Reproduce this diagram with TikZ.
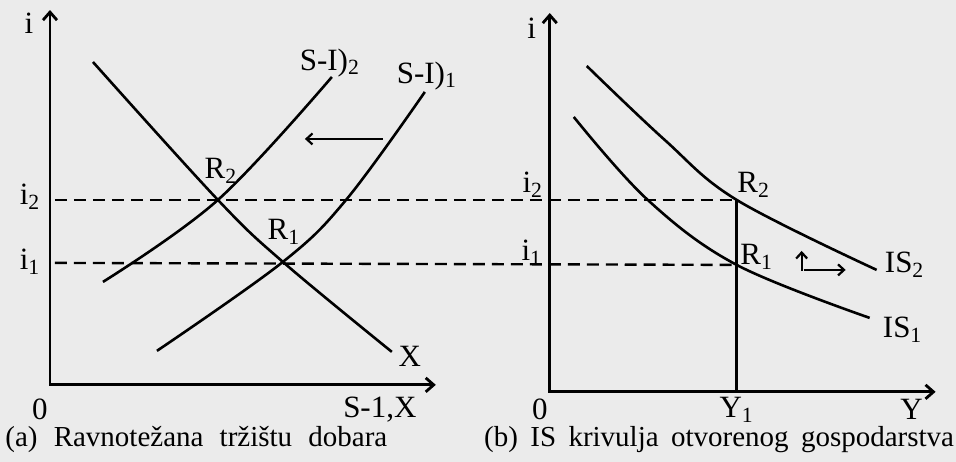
\documentclass[tikz,border=0pt]{standalone}
\usepackage{fontspec}
\setmainfont{Liberation Serif}
\usetikzlibrary{arrows.meta}
\begin{document}
\begin{tikzpicture}[x=0.5pt,y=-0.5pt,
    axis/.style={{Straight Barb[length=4pt,width=7pt]}-{Straight Barb[length=4pt,width=7pt]}, line width=1.4pt},
    curve/.style={line width=1.3pt},
    guide/.style={line width=1.2pt, dash pattern=on 6pt off 3.5pt},
    shift arrow/.style={-{Straight Barb[length=3pt,width=5.5pt]}, line width=1.1pt},
    every node/.style={font=\fontsize{15.5}{18}\selectfont, inner sep=1pt}
]
    \fill[black!8] (0,0) rectangle (956,462);

    % (a) goods market
    \coordinate (a top) at (50,10);
    \coordinate (a O) at (50,385);
    \coordinate (a right) at (436,385);
    \draw[axis] (a top) -- (a O) -- (a right);
    \coordinate (R2a) at (218,200);
    \coordinate (R1a) at (283,262);
    \draw[curve] plot[smooth, tension=0.6] coordinates {(93,62) (R2a) (R1a) (392,352)};
    \draw[curve] plot[smooth, tension=0.6] coordinates {(103,282) (R2a) (332,77)};
    \draw[curve] plot[smooth, tension=0.6] coordinates {(157,351) (R1a) (347,199) (425,92)};
    \node (ia) at (29,23) {i};
    \node (i2a) at (30,197) {i\textsubscript{2}};
    \node (i1a) at (30,262) {i\textsubscript{1}};
    \node (0a) at (40,410) {0};
    \node (xa) at (380,410) {S-1,X};
    \node (SI2) at (330,63) {S-I)\textsubscript{2}};
    \node (SI1) at (427,76) {S-I)\textsubscript{1}};
    \node (R2 lbl) at (221,171) {R\textsubscript{2}};
    \node (R1 lbl) at (284,232) {R\textsubscript{1}};
    \node (X lbl) at (410,356) {X};
    \coordinate (sh from) at (383,139);
    \coordinate (sh to) at (305,139);
    \draw[shift arrow] (sh from) -- (sh to);

    % (b) IS curve
    \coordinate (b top) at (550,13);
    \coordinate (b O) at (550,392);
    \coordinate (b right) at (936,392);
    \draw[axis] (b top) -- (b O) -- (b right);
    \coordinate (R2b) at (737,200);
    \coordinate (R1b) at (737,265);
    \coordinate (Y1) at (737,392);
    \draw[curve] plot[smooth, tension=0.6] coordinates {(587,66) (665,140) (R2b) (877,270)};
    \draw[curve] plot[smooth, tension=0.6] coordinates {(574,117) (648,200) (R1b) (870,318)};
    \draw[curve] (R2b) -- (Y1);
    \node (ib) at (532,28) {i};
    \node (i2b) at (533,185) {i\textsubscript{2}};
    \node (i1b) at (532,253) {i\textsubscript{1}};
    \node (0b) at (540,410) {0};
    \node (Y1 lbl) at (737,410) {Y\textsubscript{1}};
    \node (Y lbl) at (912,410) {Y};
    \node (R2b lbl) at (754,185) {R\textsubscript{2}};
    \node (R1b lbl) at (757,257) {R\textsubscript{1}};
    \node (IS2) at (905,265) {IS\textsubscript{2}};
    \node (IS1) at (903,330) {IS\textsubscript{1}};
    \coordinate (up from) at (802,271);
    \coordinate (up to) at (802,251);
    \coordinate (rt from) at (804,270);
    \coordinate (rt to) at (846,270);
    \draw[shift arrow] (up from) -- (up to);
    \draw[shift arrow] (rt from) -- (rt to);

    % dashed guides across both panels
    \draw[guide] (55,200) -- (R2b);
    \draw[guide] (55,263) -- (R1b);

    % captions
    \node[anchor=west, font=\fontsize{14.5}{17}\selectfont] (cap a) at (3,440) {\makebox[191pt][s]{(a) Ravnotežana tržištu dobara}};
    \node[anchor=west, font=\fontsize{14.5}{17}\selectfont] (cap b) at (482,440) {\makebox[235pt][s]{(b) IS krivulja otvorenog gospodarstva}};
\end{tikzpicture}
\end{document}
